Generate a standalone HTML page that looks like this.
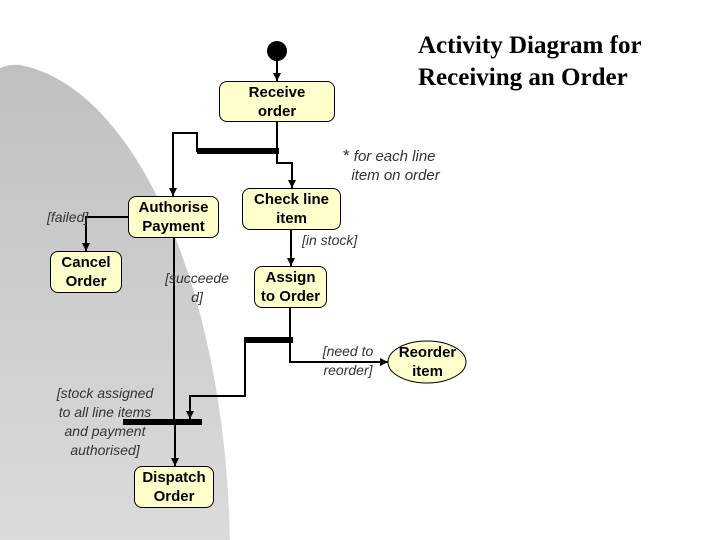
<!DOCTYPE html>
<html><head><meta charset="utf-8"><style>
body{margin:0;width:720px;height:540px;overflow:hidden;background:#fff;position:relative;font-family:"Liberation Sans",sans-serif}
.b{position:absolute;background:#ffffcc;border:1px solid #000;border-radius:8px;box-sizing:border-box;display:flex;align-items:center;justify-content:center;text-align:center;font-size:15px;line-height:19px;font-weight:bold}
.t{position:absolute;font-style:italic;font-size:14px;color:#333;line-height:19px;text-align:center;white-space:nowrap}
</style></head><body>
<svg width="720" height="540" style="position:absolute;left:0;top:0">
<defs><linearGradient id="g" x1="0" y1="0" x2="0" y2="1"><stop offset="0" stop-color="#c0c0c0"/><stop offset="1" stop-color="#dcdcdc"/></linearGradient>
<marker id="a" markerWidth="4" markerHeight="4" refX="4" refY="2" orient="auto" markerUnits="strokeWidth"><path d="M0,0L4,2L0,4z" fill="#000"/></marker></defs>
<path d="M0,68 Q10,64 20,65 A230,495 0 0 1 230,560 L0,560Z" fill="url(#g)"/>
<circle cx="277" cy="51" r="10" fill="#000"/>
<g stroke="#000" stroke-width="2" fill="none">
<path d="M277,61V81" marker-end="url(#a)"/>
<path d="M277,122V151"/>
<path d="M277,152V163H292V188" marker-end="url(#a)"/>
<path d="M197,152V133H173V196" marker-end="url(#a)"/>
<path d="M128,217H86V251" marker-end="url(#a)"/>
<path d="M174,238V419"/>
<path d="M291,230V266" marker-end="url(#a)"/>
<path d="M290,308V340"/>
<path d="M290,343V362H388" marker-end="url(#a)"/>
<path d="M245,343V396H190V419" marker-end="url(#a)"/>
<path d="M175,425V466" marker-end="url(#a)"/>
</g>
<rect x="197" y="148" width="82" height="6" fill="#000"/>
<rect x="244" y="337" width="49" height="6" fill="#000"/>
<rect x="123" y="419" width="79" height="6" fill="#000"/>
<ellipse cx="427" cy="362" rx="39" ry="21" fill="#ffffcc" stroke="#000"/>
</svg>
<div class="b" style="left:219px;top:81px;width:116px;height:41px">Receive<br>order</div>
<div class="b" style="left:128px;top:196px;width:91px;height:42px">Authorise<br>Payment</div>
<div class="b" style="left:242px;top:188px;width:99px;height:42px">Check line<br>item</div>
<div class="b" style="left:50px;top:251px;width:72px;height:42px">Cancel<br>Order</div>
<div class="b" style="left:254px;top:266px;width:73px;height:42px">Assign<br>to Order</div>
<div class="b" style="left:134px;top:466px;width:80px;height:42px">Dispatch<br>Order</div>
<div class="b" style="left:388px;top:341px;width:79px;height:42px;background:none;border:none">Reorder<br>item</div>
<div style="position:absolute;left:418px;top:30px;white-space:nowrap;font-family:'Liberation Serif',serif;font-weight:bold;font-size:25px;line-height:32px">Activity Diagram for<br>Receiving an Order</div>
<div class="t" style="left:343px;top:146px;text-align:left;font-size:15px"><span style="font-style:normal;font-size:17px">*</span> for each line<br>&nbsp;&nbsp;item on order</div>
<div class="t" style="left:47px;top:208px">[failed]</div>
<div class="t" style="left:302px;top:231px">[in stock]</div>
<div class="t" style="left:160px;top:269px;width:74px">[succeede<br>d]</div>
<div class="t" style="left:316px;top:342px;width:64px">[need to<br>reorder]</div>
<div class="t" style="left:40px;top:384px;width:130px">[stock assigned<br>to all line items<br>and payment<br>authorised]</div>
</body></html>
